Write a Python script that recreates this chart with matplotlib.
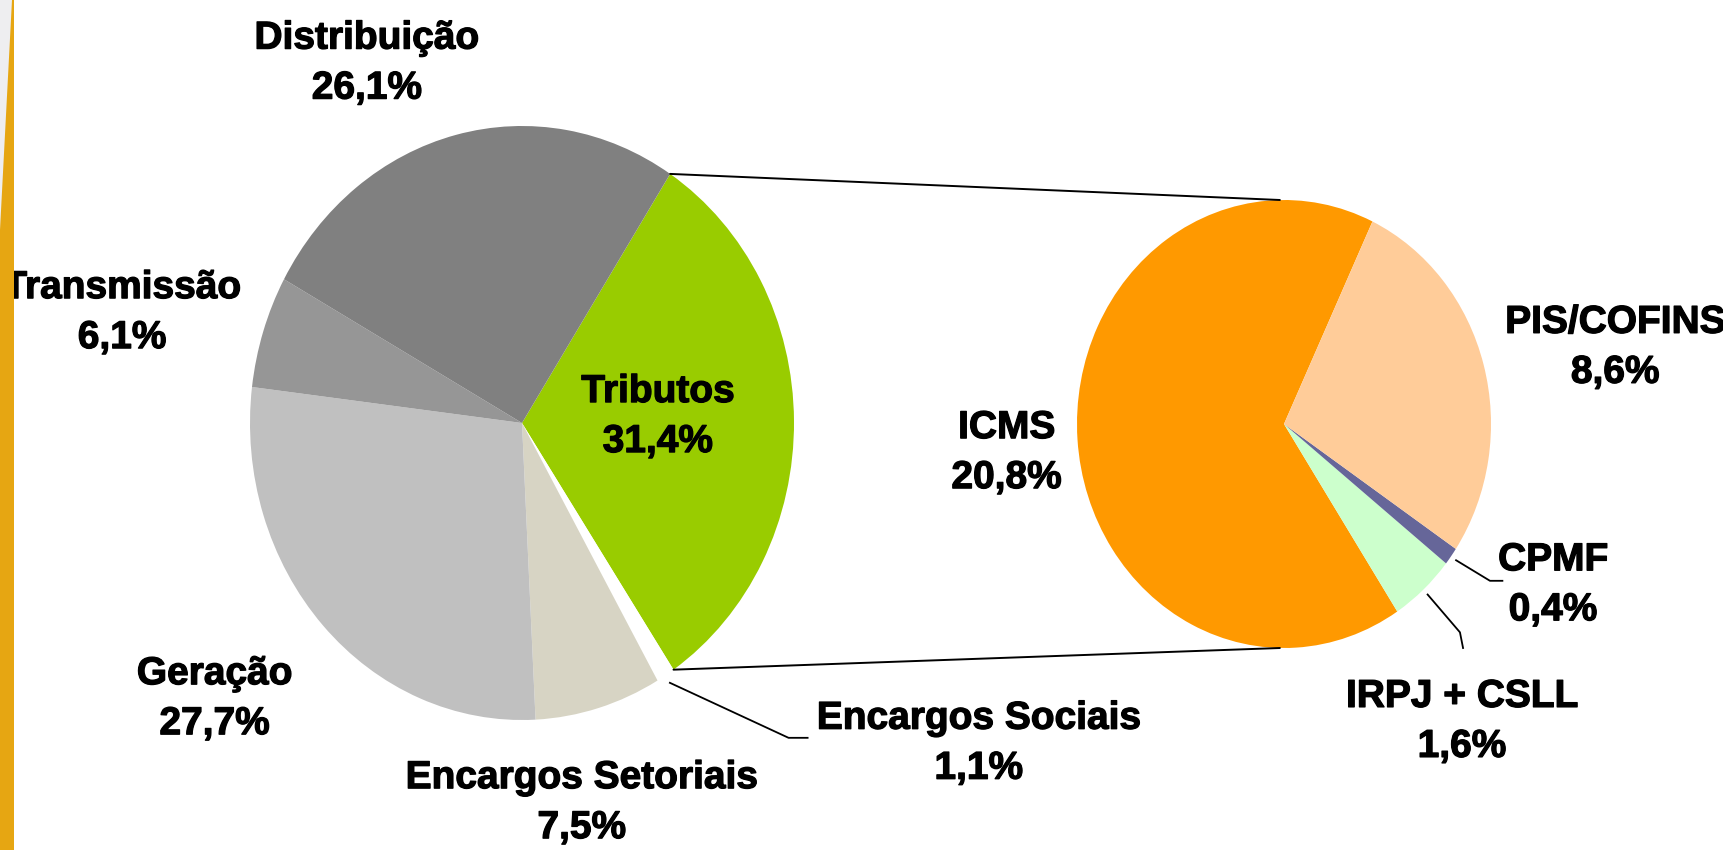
import numpy as np
import matplotlib
matplotlib.use("Agg")
import matplotlib.pyplot as plt
import matplotlib.patheffects as pe
from matplotlib.patches import ConnectionPatch, Polygon

plt.rcParams["font.family"] = ["Liberation Sans", "DejaVu Sans"]

# ── Data ─────────────────────────────────────────────────────────────────────
cost_labels = ["Tributos", "Encargos Sociais", "Encargos Setoriais",
               "Geração", "Transmissão", "Distribuição"]
cost_shares = [31.4, 1.1, 7.5, 27.7, 6.1, 26.1]
cost_colors = ["#99cc00", "#ffffff", "#d7d4c4", "#c0c0c0", "#969696", "#808080"]

tax_labels = ["ICMS", "IRPJ + CSLL", "CPMF", "PIS/COFINS"]
tax_shares = [20.8, 1.6, 0.4, 8.6]
tax_colors = ["#ff9900", "#ccffcc", "#666699", "#ffcc99"]

# label placement (pie data units, radius = 1)
cost_label_pos = {
    "Tributos":           (0.50, 0.02),
    "Encargos Sociais":   (1.68, -1.08),
    "Encargos Setoriais": (0.22, -1.28),
    "Geração":            (-1.13, -0.93),
    "Transmissão":        (-1.47, 0.37),
    "Distribuição":       (-0.57, 1.21),
}
tax_label_pos = {
    "ICMS":        (-1.34, -0.13),
    "IRPJ + CSLL": (0.86, -1.33),
    "CPMF":        (1.30, -0.72),
    "PIS/COFINS":  (1.60, 0.34),
}
# leader line elbows for the small slices
leaders = {
    "Encargos Sociais": [(0.98, -1.06), (1.05, -1.06)],
    "CPMF":             [(0.995, -0.70), (1.055, -0.70)],
    "IRPJ + CSLL":      [(0.85, -0.93), (0.865, -1.00)],
}

W, H = 1723, 850
fig = plt.figure(figsize=(W / 100, H / 100), dpi=100)
fig.patch.set_facecolor("white")


def pie_axes(cx, cy, rx, ry):
    # axes box spans exactly the (slightly stretched) pie
    return fig.add_axes([(cx - rx) / W, (H - cy - ry) / H, 2 * rx / W, 2 * ry / H])


def pct(v):
    return f"{v:.1f}%".replace(".", ",")


def draw_pie(ax, shares, colors, start, ccw):
    wedges, _ = ax.pie(shares, colors=colors, startangle=start,
                       counterclock=ccw, wedgeprops=dict(linewidth=0))
    ax.set_aspect("auto")
    ax.set_xlim(-1, 1)
    ax.set_ylim(-1, 1)
    ax.axis("off")
    return wedges


def label_pie(ax, wedges, labels, shares, pos):
    for w, lab, val in zip(wedges, labels, shares):
        x, y = pos[lab]
        ax.text(x, y, f"{lab}\n{pct(val)}", ha="center", va="center",
                fontsize=28, fontweight="bold", linespacing=1.5,
                clip_on=False,
                path_effects=[pe.withStroke(linewidth=0.9, foreground="black")])
        if lab in leaders:
            mid = np.deg2rad((w.theta1 + w.theta2) / 2)
            pts = [(1.03 * np.cos(mid), 1.03 * np.sin(mid))] + leaders[lab]
            xs, ys = zip(*pts)
            ax.plot(xs, ys, color="black", lw=1.3, clip_on=False)


ax1 = pie_axes(522, 423, 272, 297)
ax2 = pie_axes(1284, 424, 207, 224)

w1 = draw_pie(ax1, cost_shares, cost_colors, 57, False)
w2 = draw_pie(ax2, tax_shares, tax_colors, 64.7, True)
label_pie(ax1, w1, cost_labels, cost_shares, cost_label_pos)
label_pie(ax2, w2, tax_labels, tax_shares, tax_label_pos)

# ── Lines linking the Tributos slice to the breakdown pie ────────────────────
trib = w1[0]
for ang, yb in [(trib.theta2, 1), (trib.theta1, -1)]:
    a = np.deg2rad(ang)
    con = ConnectionPatch(xyA=(np.cos(a), np.sin(a)), coordsA=ax1.transData,
                          xyB=(-0.02, yb), coordsB=ax2.transData,
                          color="black", lw=1.4)
    fig.add_artist(con)

# ── Slide decoration at the left edge ────────────────────────────────────────
strip = Polygon([(0, 0), (14 / W, 0), (14 / W, 1), (0, 1)], closed=True,
                transform=fig.transFigure, facecolor="#e6a612",
                edgecolor="none", zorder=10)
corner = Polygon([(0, 1), (12 / W, 1), (0, 1 - 230 / H)], closed=True,
                 transform=fig.transFigure, facecolor="#eeeef0",
                 edgecolor="none", zorder=11)
fig.add_artist(strip)
fig.add_artist(corner)

fig.savefig("out.png", dpi=100, facecolor="white")
